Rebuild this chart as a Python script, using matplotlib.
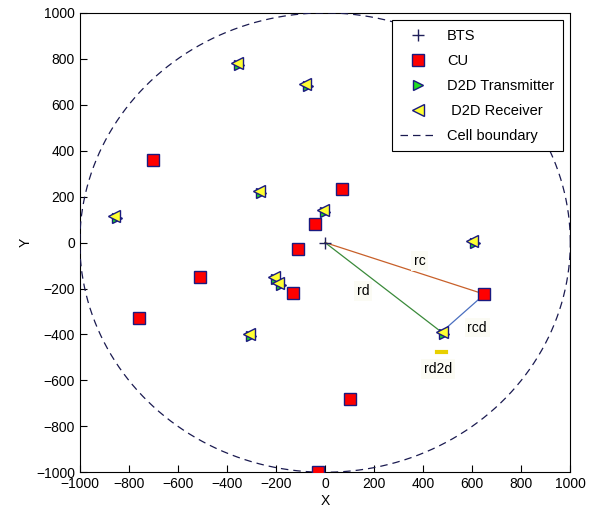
import numpy as np
import matplotlib
matplotlib.use('Agg')
import matplotlib.pyplot as plt

plt.rcParams['font.family'] = ['Liberation Sans Narrow', 'Liberation Sans', 'DejaVu Sans']

# cell and nodes
cell_radius = 1000
bts_x, bts_y = [0], [0]
cu_x = [-700, -760, -510, -130, -110, -40, 70, 650, 100, -30]
cu_y = [360, -330, -150, -220, -30, 80, 235, -225, -680, -1000]
d2d_x = [-360, -80, -270, -10, -860, -210, -190, -310, 600, 475]
d2d_y = [780, 690, 225, 140, 115, -150, -175, -400, 5, -390]

# highlighted links: BTS -> CU, BTS -> D2D, CU -> D2D
rc_x, rc_y = [0, 650], [0, -225]
rd_x, rd_y = [0, 475], [0, -390]
rcd_x, rcd_y = [650, 475], [-225, -390]
link_labels = ['rc', 'rd', 'rcd', 'rd2d']
label_x = [385, 155, 620, 460]
label_y = [-80, -210, -370, -550]

fig = plt.figure(figsize=(5.91, 5.15), dpi=100)
ax = fig.add_axes([0.135, 0.083, 0.83, 0.892])

ax.plot(rc_x, rc_y, color='#c8602a', lw=0.9, zorder=2)
ax.plot(rd_x, rd_y, color='#3a8a3a', lw=0.9, zorder=2)
ax.plot(rcd_x, rcd_y, color='#4a6fc0', lw=0.9, zorder=2)

ax.plot(bts_x, bts_y, '+', color='#20205a', ms=9, mew=1.0, label='BTS', zorder=4)
ax.plot(cu_x, cu_y, 's', mfc='red', mec='#1a1a80', ms=8.5, mew=1.0, label='CU', zorder=4)
ax.plot(np.array(d2d_x) + 10, np.array(d2d_y) - 8, '>', mfc='#22dd22', mec='#1a1a80', ms=7,
        mew=1.0, label='D2D Transmitter', zorder=4)
ax.plot(d2d_x, d2d_y, '<', mfc='#ffff33', mec='#1a1a80', ms=8, mew=1.0,
        label=' D2D Receiver', zorder=5)

t = np.linspace(0, 2 * np.pi, 400)
ax.plot(cell_radius * np.cos(t), cell_radius * np.sin(t), '--', color='#1a1a50',
        lw=0.9, dashes=(6, 4), label='Cell boundary', zorder=3)

for lab, lx, ly in zip(link_labels, label_x, label_y):
    ax.text(lx, ly, lab, fontsize=10, ha='center', va='center', zorder=6,
            bbox=dict(facecolor='#fbfbf4', edgecolor='none', pad=2))
ax.plot([455, 495], [-475, -475], color='#e8d000', lw=3, zorder=6)

ax.set_xlim(-1000, 1000)
ax.set_ylim(-1000, 1000)
ax.set_xticks(np.arange(-1000, 1001, 200))
ax.set_yticks(np.arange(-1000, 1001, 200))
ax.tick_params(direction='in', length=5, labelsize=10)
ax.set_xlabel('X', fontsize=10, labelpad=2)
ax.set_ylabel('Y', fontsize=10, labelpad=2)

leg = ax.legend(loc='upper right', fontsize=10.5, fancybox=False, edgecolor='black',
                framealpha=1, borderaxespad=0.5, handlelength=2.4, labelspacing=0.75,
                borderpad=0.6)
leg.get_frame().set_linewidth(0.8)

plt.savefig('out.png', dpi=100)
